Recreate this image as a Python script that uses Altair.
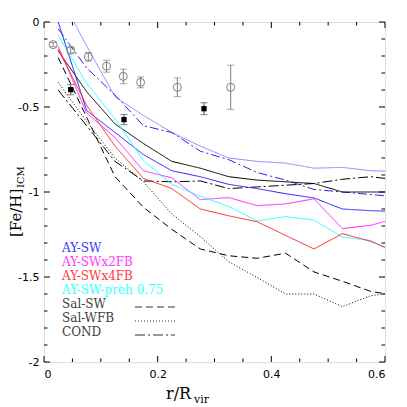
import altair as alt
import pandas as pd

# ---------------- data ----------------
r_bins = [0.025, 0.075, 0.125, 0.175, 0.225, 0.275, 0.325, 0.375, 0.425, 0.475, 0.525, 0.575, 0.625]

ay_sw = [0.00, -0.52, -0.65, -0.78, -0.875, -0.91, -0.955, -0.98, -1.01, -1.035, -1.10, -1.11, -1.115]
ay_sw_light = [0.17, -0.14, -0.44, -0.55, -0.65, -0.73, -0.80, -0.82, -0.83, -0.86, -0.855, -0.875, -0.88]
ay_sw_dashdot = [-0.04, -0.27, -0.43, -0.61, -0.65, -0.76, -0.81, -0.885, -0.93, -0.985, -1.00, -1.015, -1.03]
ay_sw_x2fb = [-0.143, -0.535, -0.68, -0.875, -0.917, -1.045, -1.033, -1.08, -1.07, -1.04, -1.215, -1.196, -1.15]
ay_sw_x4fb = [-0.16, -0.49, -0.73, -0.92, -0.98, -1.10, -1.14, -1.175, -1.255, -1.335, -1.245, -1.29, -1.36]
ay_sw_preh = [-0.08, -0.36, -0.57, -0.815, -0.955, -1.025, -1.085, -1.17, -1.145, -1.165, -1.265, -1.285, -1.375]
sal_sw = [-0.21, -0.56, -0.91, -1.09, -1.22, -1.335, -1.375, -1.39, -1.36, -1.47, -1.525, -1.585, -1.61]
sal_wfb = [-0.355, -0.586, -0.80, -0.94, -1.13, -1.262, -1.41, -1.503, -1.60, -1.60, -1.674, -1.61, -1.585]
cond = [-0.40, -0.61, -0.82, -0.935, -0.94, -0.935, -0.98, -0.97, -0.96, -0.95, -0.925, -0.91, -0.93]
black_solid = [-0.17, -0.41, -0.60, -0.715, -0.82, -0.86, -0.91, -0.93, -0.94, -0.95, -1.00, -1.00, -1.00]

obs_open_r = [0.016, 0.047, 0.078, 0.110, 0.1395, 0.170, 0.2346, 0.3285]
obs_open_fe = [-0.133, -0.166, -0.205, -0.26, -0.32, -0.355, -0.384, -0.384]
obs_open_err = [0.012, 0.018, 0.025, 0.035, 0.043, 0.032, 0.055, 0.13]

obs_fill_r = [0.047, 0.1408, 0.2815]
obs_fill_fe = [-0.398, -0.574, -0.51]
obs_fill_err = [0.03, 0.03, 0.035]

legend_labels = ["AY-SW", "AY-SWx2FB", "AY-SWx4FB", "AY-SW-preh 0.75", "Sal-SW", "Sal-WFB", "COND"]

x_major = [0, 0.2, 0.4, 0.6]
x_minor = [0.05, 0.1, 0.15, 0.25, 0.3, 0.35, 0.45, 0.5, 0.55]
y_major = [0, -0.5, -1, -1.5, -2]
y_minor = [-0.1, -0.2, -0.3, -0.4, -0.6, -0.7, -0.8, -0.9, -1.1, -1.2, -1.3, -1.4,
           -1.6, -1.7, -1.8, -1.9]

# ---------------- layout ----------------
W, H = 341, 340
xscale = alt.Scale(domain=[0, 0.6], nice=False, zero=False)
yscale = alt.Scale(domain=[-2, 0], nice=False, zero=False)
xaxis = alt.Axis(values=x_major, domain=False, ticks=False, grid=False, labelPadding=6,
                 labelFont="DejaVu Sans", labelFontSize=11, labelColor="black",
                 labelExpr="datum.value == 0 ? '0' : toString(datum.value)", title=None)
yaxis = alt.Axis(values=y_major, domain=False, ticks=False, grid=False, labelPadding=5,
                 labelFont="DejaVu Sans", labelFontSize=11, labelColor="black",
                 labelExpr="datum.value == 0 ? '0' : toString(datum.value)", title=None)


def X(f):
    return alt.X(f, type="quantitative", scale=xscale, axis=xaxis)


def Y(f):
    return alt.Y(f, type="quantitative", scale=yscale, axis=yaxis)


layers = []

# model curves
series = [
    (ay_sw_light, "#8888ff", [1, 0], 1.0),
    (ay_sw_dashdot, "#2626e6", [9, 3, 2, 3], 1.0),
    (black_solid, "#000000", [1, 0], 1.0),
    (cond, "#000000", [10, 3, 2, 3], 1.0),
    (ay_sw, "#1f1fff", [1, 0], 1.0),
    (ay_sw_x2fb, "#ff22ff", [1, 0], 1.0),
    (ay_sw_preh, "#22ffff", [1, 0], 1.0),
    (ay_sw_x4fb, "#ff2222", [1, 0], 1.0),
    (sal_sw, "#000000", [7, 4], 1.0),
    (sal_wfb, "#000000", [1, 2], 1.0),
]
for vals, col, dash, w in series:
    df = pd.DataFrame({"r": r_bins, "fe": vals})
    layers.append(
        alt.Chart(df).mark_line(clip=True, color=col, strokeDash=dash, strokeWidth=w)
        .encode(x=X("r"), y=Y("fe"))
    )

# observations
df_open = pd.DataFrame({"r": obs_open_r, "fe": obs_open_fe, "err": obs_open_err})
df_open["lo"] = df_open["fe"] - df_open["err"]
df_open["hi"] = df_open["fe"] + df_open["err"]
df_fill = pd.DataFrame({"r": obs_fill_r, "fe": obs_fill_fe, "err": obs_fill_err})
df_fill["lo"] = df_fill["fe"] - df_fill["err"]
df_fill["hi"] = df_fill["fe"] + df_fill["err"]

for df, col in [(df_open, "#808080"), (df_fill, "#505050")]:
    layers.append(alt.Chart(df).mark_rule(color=col, strokeWidth=1)
                  .encode(x=X("r"), y=Y("lo"), y2="hi"))
    layers.append(alt.Chart(df).mark_tick(color=col, orient="horizontal", size=7, thickness=1)
                  .encode(x=X("r"), y=Y("lo")))
    layers.append(alt.Chart(df).mark_tick(color=col, orient="horizontal", size=7, thickness=1)
                  .encode(x=X("r"), y=Y("hi")))

layers.append(alt.Chart(df_open).mark_point(shape="circle", filled=False, color="#808080",
                                            size=64, strokeWidth=1, opacity=1)
              .encode(x=X("r"), y=Y("fe")))
layers.append(alt.Chart(df_fill).mark_point(shape="square", filled=True, color="#000000",
                                            size=28, opacity=1)
              .encode(x=X("r"), y=Y("fe")))

# inner ticks (all four sides)
for vals, ln in [(x_major, 6), (x_minor, 3.5)]:
    d = pd.DataFrame({"v": vals})
    layers.append(alt.Chart(d).mark_rule(color="black").encode(
        x=X("v"), y=alt.value(H), y2=alt.value(H - ln)))
    layers.append(alt.Chart(d).mark_rule(color="black").encode(
        x=X("v"), y=alt.value(0), y2=alt.value(ln)))
for vals, ln in [(y_major, 6), (y_minor, 3.5)]:
    d = pd.DataFrame({"v": vals})
    layers.append(alt.Chart(d).mark_rule(color="black").encode(
        y=Y("v"), x=alt.value(0), x2=alt.value(ln)))
    layers.append(alt.Chart(d).mark_rule(color="black").encode(
        y=Y("v"), x=alt.value(W), x2=alt.value(W - ln)))

# legend
legend_colors = ["#3a3aff", "#ff3cff", "#ff3c3c", "#3cffff", "#404040", "#404040", "#404040"]
for i, (lab, col) in enumerate(zip(legend_labels, legend_colors)):
    d = pd.DataFrame({"t": [lab]})
    layers.append(alt.Chart(d).mark_text(align="left", baseline="middle", font="DejaVu Serif",
                                         fontSize=12, color=col)
                  .encode(text="t:N", x=alt.value(18), y=alt.value(226 + i * 14)))
for i, dash in zip([4, 5, 6], [[7, 4], [1, 2], [10, 3, 2, 3]]):
    d = pd.DataFrame({"t": [legend_labels[i]]})
    layers.append(alt.Chart(d).mark_rule(color="#303030", strokeDash=dash)
                  .encode(x=alt.value(91), x2=alt.value(131), y=alt.value(229 + i * 14)))

# axis titles
t = pd.DataFrame({"t": ["r/R"]})
layers.append(alt.Chart(t).mark_text(align="left", baseline="alphabetic", font="DejaVu Serif",
                                     fontSize=16, color="black")
              .encode(text="t:N", x=alt.value(122), y=alt.value(377)))
t = pd.DataFrame({"t": ["vir"]})
layers.append(alt.Chart(t).mark_text(align="left", baseline="alphabetic", font="DejaVu Serif",
                                     fontSize=11, color="black")
              .encode(text="t:N", x=alt.value(150), y=alt.value(381)))
t = pd.DataFrame({"t": ["[Fe/H]"]})
layers.append(alt.Chart(t).mark_text(align="left", baseline="middle", font="DejaVu Serif",
                                     fontSize=15, color="black", angle=270)
              .encode(text="t:N", x=alt.value(-28), y=alt.value(215)))
t = pd.DataFrame({"t": ["ICM"]})
layers.append(alt.Chart(t).mark_text(align="left", baseline="middle", font="DejaVu Serif",
                                     fontSize=10, color="black", angle=270)
              .encode(text="t:N", x=alt.value(-23), y=alt.value(166)))

chart = alt.layer(*layers).properties(
    width=W, height=H,
    autosize=alt.AutoSizeParams(type="none"),
    padding={"left": 36, "top": 14, "right": 14, "bottom": 45},
).configure_view(stroke="black", strokeWidth=1).configure(background="white")

chart.save("out.html", embed_options={"renderer": "svg", "actions": False})
